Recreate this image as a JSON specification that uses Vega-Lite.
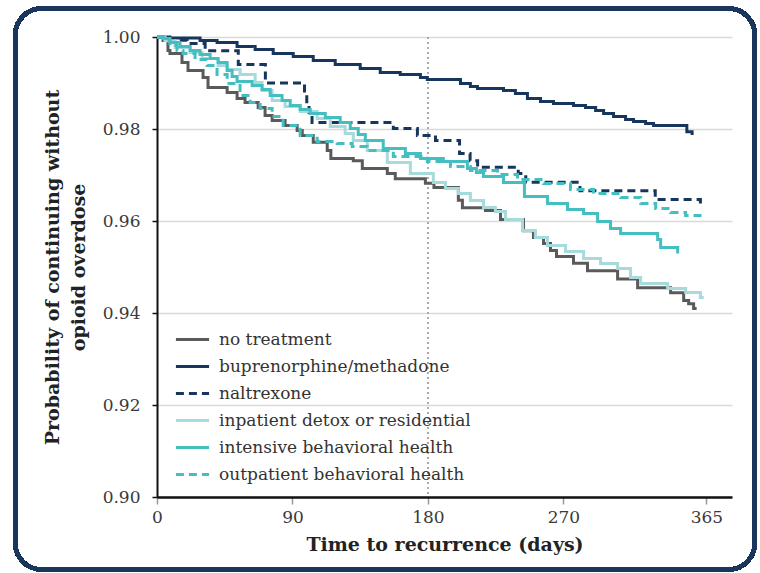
{
  "$schema": "https://vega.github.io/schema/vega-lite/v6.json",
  "width": 575,
  "height": 460,
  "autosize": {"type": "none"},
  "padding": {"left": 157, "top": 37, "right": 28, "bottom": 76},
  "background": "white",
  "config": {"view": {"stroke": null}, "font": "DejaVu Serif"},
  "data": {"values": [
    {"group": "no treatment", "day": 0, "p": 1.0},
    {"group": "no treatment", "day": 4, "p": 0.99924},
    {"group": "no treatment", "day": 7.3, "p": 0.99707},
    {"group": "no treatment", "day": 8.6, "p": 0.99641},
    {"group": "no treatment", "day": 16.6, "p": 0.99446},
    {"group": "no treatment", "day": 20.6, "p": 0.99272},
    {"group": "no treatment", "day": 30.6, "p": 0.9912},
    {"group": "no treatment", "day": 33.9, "p": 0.98902},
    {"group": "no treatment", "day": 46.6, "p": 0.98793},
    {"group": "no treatment", "day": 53.2, "p": 0.98663},
    {"group": "no treatment", "day": 58.5, "p": 0.98576},
    {"group": "no treatment", "day": 67.2, "p": 0.98467},
    {"group": "no treatment", "day": 71.8, "p": 0.98293},
    {"group": "no treatment", "day": 76.5, "p": 0.98185},
    {"group": "no treatment", "day": 85.1, "p": 0.98076},
    {"group": "no treatment", "day": 93.1, "p": 0.97967},
    {"group": "no treatment", "day": 96.5, "p": 0.97859},
    {"group": "no treatment", "day": 103.8, "p": 0.97713},
    {"group": "no treatment", "day": 113.1, "p": 0.9753},
    {"group": "no treatment", "day": 115.5, "p": 0.9736},
    {"group": "no treatment", "day": 130.4, "p": 0.9731},
    {"group": "no treatment", "day": 136.4, "p": 0.9714},
    {"group": "no treatment", "day": 153, "p": 0.9703},
    {"group": "no treatment", "day": 158.3, "p": 0.9692},
    {"group": "no treatment", "day": 178.3, "p": 0.9682},
    {"group": "no treatment", "day": 184, "p": 0.9673},
    {"group": "no treatment", "day": 200.2, "p": 0.9645},
    {"group": "no treatment", "day": 202.9, "p": 0.9629},
    {"group": "no treatment", "day": 218.2, "p": 0.9623},
    {"group": "no treatment", "day": 228.2, "p": 0.9603},
    {"group": "no treatment", "day": 243.5, "p": 0.9579},
    {"group": "no treatment", "day": 250.1, "p": 0.9564},
    {"group": "no treatment", "day": 256.8, "p": 0.9551},
    {"group": "no treatment", "day": 261.4, "p": 0.9536},
    {"group": "no treatment", "day": 265.4, "p": 0.9523},
    {"group": "no treatment", "day": 276.7, "p": 0.9508},
    {"group": "no treatment", "day": 286, "p": 0.9492},
    {"group": "no treatment", "day": 306, "p": 0.9474},
    {"group": "no treatment", "day": 319.3, "p": 0.9455},
    {"group": "no treatment", "day": 341.2, "p": 0.9444},
    {"group": "no treatment", "day": 349.9, "p": 0.9427},
    {"group": "no treatment", "day": 353.2, "p": 0.942},
    {"group": "no treatment", "day": 356.5, "p": 0.941},
    {"group": "no treatment", "day": 358.5, "p": 0.941},
    {"group": "buprenorphine/methadone", "day": 0, "p": 1.0},
    {"group": "buprenorphine/methadone", "day": 8.6, "p": 0.99978},
    {"group": "buprenorphine/methadone", "day": 28.6, "p": 0.99924},
    {"group": "buprenorphine/methadone", "day": 39.9, "p": 0.9988},
    {"group": "buprenorphine/methadone", "day": 53.2, "p": 0.99793},
    {"group": "buprenorphine/methadone", "day": 65.2, "p": 0.99728},
    {"group": "buprenorphine/methadone", "day": 77.2, "p": 0.99641},
    {"group": "buprenorphine/methadone", "day": 90.5, "p": 0.99576},
    {"group": "buprenorphine/methadone", "day": 103.8, "p": 0.99489},
    {"group": "buprenorphine/methadone", "day": 118.4, "p": 0.99402},
    {"group": "buprenorphine/methadone", "day": 135, "p": 0.99315},
    {"group": "buprenorphine/methadone", "day": 148.3, "p": 0.99228},
    {"group": "buprenorphine/methadone", "day": 161.6, "p": 0.99185},
    {"group": "buprenorphine/methadone", "day": 175, "p": 0.9912},
    {"group": "buprenorphine/methadone", "day": 179.6, "p": 0.99076},
    {"group": "buprenorphine/methadone", "day": 201.6, "p": 0.98989},
    {"group": "buprenorphine/methadone", "day": 208.2, "p": 0.98924},
    {"group": "buprenorphine/methadone", "day": 212.9, "p": 0.9888},
    {"group": "buprenorphine/methadone", "day": 230.2, "p": 0.98837},
    {"group": "buprenorphine/methadone", "day": 238.1, "p": 0.98772},
    {"group": "buprenorphine/methadone", "day": 246.1, "p": 0.98663},
    {"group": "buprenorphine/methadone", "day": 254.8, "p": 0.98598},
    {"group": "buprenorphine/methadone", "day": 263.4, "p": 0.98554},
    {"group": "buprenorphine/methadone", "day": 276.7, "p": 0.98511},
    {"group": "buprenorphine/methadone", "day": 284.7, "p": 0.98467},
    {"group": "buprenorphine/methadone", "day": 291.4, "p": 0.98402},
    {"group": "buprenorphine/methadone", "day": 296.7, "p": 0.98337},
    {"group": "buprenorphine/methadone", "day": 303.3, "p": 0.98272},
    {"group": "buprenorphine/methadone", "day": 311.3, "p": 0.98207},
    {"group": "buprenorphine/methadone", "day": 316.6, "p": 0.98163},
    {"group": "buprenorphine/methadone", "day": 324.6, "p": 0.9812},
    {"group": "buprenorphine/methadone", "day": 329.9, "p": 0.98076},
    {"group": "buprenorphine/methadone", "day": 352, "p": 0.9794},
    {"group": "buprenorphine/methadone", "day": 355.5, "p": 0.979},
    {"group": "buprenorphine/methadone", "day": 356.5, "p": 0.979},
    {"group": "naltrexone", "day": 0, "p": 1.0},
    {"group": "naltrexone", "day": 4, "p": 0.9993},
    {"group": "naltrexone", "day": 20, "p": 0.9986},
    {"group": "naltrexone", "day": 32, "p": 0.997},
    {"group": "naltrexone", "day": 54, "p": 0.994},
    {"group": "naltrexone", "day": 72, "p": 0.99},
    {"group": "naltrexone", "day": 98, "p": 0.9878},
    {"group": "naltrexone", "day": 99.5, "p": 0.9856},
    {"group": "naltrexone", "day": 101, "p": 0.9836},
    {"group": "naltrexone", "day": 103, "p": 0.9814},
    {"group": "naltrexone", "day": 157, "p": 0.9801},
    {"group": "naltrexone", "day": 173, "p": 0.9786},
    {"group": "naltrexone", "day": 185, "p": 0.9775},
    {"group": "naltrexone", "day": 201, "p": 0.9747},
    {"group": "naltrexone", "day": 208, "p": 0.9731},
    {"group": "naltrexone", "day": 213, "p": 0.9717},
    {"group": "naltrexone", "day": 240, "p": 0.9703},
    {"group": "naltrexone", "day": 245, "p": 0.9684},
    {"group": "naltrexone", "day": 281, "p": 0.9666},
    {"group": "naltrexone", "day": 331, "p": 0.9647},
    {"group": "naltrexone", "day": 361, "p": 0.9627},
    {"group": "inpatient detox or residential", "day": 0, "p": 1.0},
    {"group": "inpatient detox or residential", "day": 5.3, "p": 0.9992},
    {"group": "inpatient detox or residential", "day": 12, "p": 0.99772},
    {"group": "inpatient detox or residential", "day": 22, "p": 0.99663},
    {"group": "inpatient detox or residential", "day": 30, "p": 0.99533},
    {"group": "inpatient detox or residential", "day": 40.6, "p": 0.9938},
    {"group": "inpatient detox or residential", "day": 46.6, "p": 0.99293},
    {"group": "inpatient detox or residential", "day": 55.2, "p": 0.99185},
    {"group": "inpatient detox or residential", "day": 65.2, "p": 0.99011},
    {"group": "inpatient detox or residential", "day": 69.8, "p": 0.98837},
    {"group": "inpatient detox or residential", "day": 76.5, "p": 0.9862},
    {"group": "inpatient detox or residential", "day": 85.1, "p": 0.98489},
    {"group": "inpatient detox or residential", "day": 95.1, "p": 0.9838},
    {"group": "inpatient detox or residential", "day": 106.4, "p": 0.98228},
    {"group": "inpatient detox or residential", "day": 115.1, "p": 0.98054},
    {"group": "inpatient detox or residential", "day": 125, "p": 0.97902},
    {"group": "inpatient detox or residential", "day": 130.4, "p": 0.9775},
    {"group": "inpatient detox or residential", "day": 139.7, "p": 0.97533},
    {"group": "inpatient detox or residential", "day": 153, "p": 0.97272},
    {"group": "inpatient detox or residential", "day": 168.3, "p": 0.97033},
    {"group": "inpatient detox or residential", "day": 183.6, "p": 0.96837},
    {"group": "inpatient detox or residential", "day": 191.6, "p": 0.96707},
    {"group": "inpatient detox or residential", "day": 200.2, "p": 0.96598},
    {"group": "inpatient detox or residential", "day": 208.2, "p": 0.96446},
    {"group": "inpatient detox or residential", "day": 216.9, "p": 0.96293},
    {"group": "inpatient detox or residential", "day": 224.8, "p": 0.96207},
    {"group": "inpatient detox or residential", "day": 231.5, "p": 0.96033},
    {"group": "inpatient detox or residential", "day": 242.8, "p": 0.95793},
    {"group": "inpatient detox or residential", "day": 251.4, "p": 0.95641},
    {"group": "inpatient detox or residential", "day": 259.4, "p": 0.95467},
    {"group": "inpatient detox or residential", "day": 271.4, "p": 0.95337},
    {"group": "inpatient detox or residential", "day": 283.4, "p": 0.95185},
    {"group": "inpatient detox or residential", "day": 294.7, "p": 0.95076},
    {"group": "inpatient detox or residential", "day": 306, "p": 0.94967},
    {"group": "inpatient detox or residential", "day": 314.6, "p": 0.94772},
    {"group": "inpatient detox or residential", "day": 321.3, "p": 0.94641},
    {"group": "inpatient detox or residential", "day": 339.2, "p": 0.94533},
    {"group": "inpatient detox or residential", "day": 351.2, "p": 0.94446},
    {"group": "inpatient detox or residential", "day": 361, "p": 0.94337},
    {"group": "inpatient detox or residential", "day": 363.2, "p": 0.94337},
    {"group": "intensive behavioral health", "day": 0, "p": 1.0},
    {"group": "intensive behavioral health", "day": 4, "p": 0.9997},
    {"group": "intensive behavioral health", "day": 8.6, "p": 0.9988},
    {"group": "intensive behavioral health", "day": 15.3, "p": 0.99793},
    {"group": "intensive behavioral health", "day": 22, "p": 0.99707},
    {"group": "intensive behavioral health", "day": 28.6, "p": 0.9962},
    {"group": "intensive behavioral health", "day": 35.3, "p": 0.99533},
    {"group": "intensive behavioral health", "day": 40.6, "p": 0.99446},
    {"group": "intensive behavioral health", "day": 46.6, "p": 0.99272},
    {"group": "intensive behavioral health", "day": 49.9, "p": 0.99141},
    {"group": "intensive behavioral health", "day": 53.2, "p": 0.99033},
    {"group": "intensive behavioral health", "day": 63.2, "p": 0.98946},
    {"group": "intensive behavioral health", "day": 69.8, "p": 0.98859},
    {"group": "intensive behavioral health", "day": 75.2, "p": 0.98728},
    {"group": "intensive behavioral health", "day": 83.1, "p": 0.9862},
    {"group": "intensive behavioral health", "day": 88.5, "p": 0.98511},
    {"group": "intensive behavioral health", "day": 95.1, "p": 0.98424},
    {"group": "intensive behavioral health", "day": 101.8, "p": 0.98337},
    {"group": "intensive behavioral health", "day": 111.8, "p": 0.9825},
    {"group": "intensive behavioral health", "day": 121.7, "p": 0.98141},
    {"group": "intensive behavioral health", "day": 128.4, "p": 0.98011},
    {"group": "intensive behavioral health", "day": 133.7, "p": 0.9788},
    {"group": "intensive behavioral health", "day": 138.4, "p": 0.9775},
    {"group": "intensive behavioral health", "day": 150.3, "p": 0.97576},
    {"group": "intensive behavioral health", "day": 165, "p": 0.97467},
    {"group": "intensive behavioral health", "day": 175, "p": 0.97359},
    {"group": "intensive behavioral health", "day": 190.2, "p": 0.97293},
    {"group": "intensive behavioral health", "day": 206.2, "p": 0.97141},
    {"group": "intensive behavioral health", "day": 212.2, "p": 0.97054},
    {"group": "intensive behavioral health", "day": 216.9, "p": 0.96967},
    {"group": "intensive behavioral health", "day": 230.2, "p": 0.96837},
    {"group": "intensive behavioral health", "day": 244.1, "p": 0.96533},
    {"group": "intensive behavioral health", "day": 259.4, "p": 0.9638},
    {"group": "intensive behavioral health", "day": 272.7, "p": 0.9625},
    {"group": "intensive behavioral health", "day": 283.4, "p": 0.96163},
    {"group": "intensive behavioral health", "day": 292.7, "p": 0.95989},
    {"group": "intensive behavioral health", "day": 301.3, "p": 0.95837},
    {"group": "intensive behavioral health", "day": 308, "p": 0.95728},
    {"group": "intensive behavioral health", "day": 332.6, "p": 0.95598},
    {"group": "intensive behavioral health", "day": 334.6, "p": 0.95424},
    {"group": "intensive behavioral health", "day": 345.9, "p": 0.95293},
    {"group": "outpatient behavioral health", "day": 0, "p": 1.0},
    {"group": "outpatient behavioral health", "day": 4, "p": 0.99946},
    {"group": "outpatient behavioral health", "day": 8.6, "p": 0.99815},
    {"group": "outpatient behavioral health", "day": 13.3, "p": 0.99707},
    {"group": "outpatient behavioral health", "day": 17.3, "p": 0.99641},
    {"group": "outpatient behavioral health", "day": 25.3, "p": 0.99511},
    {"group": "outpatient behavioral health", "day": 33.3, "p": 0.9938},
    {"group": "outpatient behavioral health", "day": 39.9, "p": 0.99185},
    {"group": "outpatient behavioral health", "day": 46.6, "p": 0.98989},
    {"group": "outpatient behavioral health", "day": 55.2, "p": 0.98728},
    {"group": "outpatient behavioral health", "day": 61.9, "p": 0.98576},
    {"group": "outpatient behavioral health", "day": 68.5, "p": 0.98446},
    {"group": "outpatient behavioral health", "day": 76.5, "p": 0.98272},
    {"group": "outpatient behavioral health", "day": 83.8, "p": 0.98076},
    {"group": "outpatient behavioral health", "day": 95.1, "p": 0.97859},
    {"group": "outpatient behavioral health", "day": 106.4, "p": 0.97728},
    {"group": "outpatient behavioral health", "day": 119.7, "p": 0.97685},
    {"group": "outpatient behavioral health", "day": 129.7, "p": 0.9762},
    {"group": "outpatient behavioral health", "day": 139.7, "p": 0.97533},
    {"group": "outpatient behavioral health", "day": 157, "p": 0.97402},
    {"group": "outpatient behavioral health", "day": 179.6, "p": 0.97293},
    {"group": "outpatient behavioral health", "day": 195, "p": 0.97185},
    {"group": "outpatient behavioral health", "day": 208.2, "p": 0.97098},
    {"group": "outpatient behavioral health", "day": 226.2, "p": 0.97011},
    {"group": "outpatient behavioral health", "day": 239.5, "p": 0.96902},
    {"group": "outpatient behavioral health", "day": 256.8, "p": 0.96815},
    {"group": "outpatient behavioral health", "day": 274.7, "p": 0.96685},
    {"group": "outpatient behavioral health", "day": 290, "p": 0.96598},
    {"group": "outpatient behavioral health", "day": 308, "p": 0.96511},
    {"group": "outpatient behavioral health", "day": 321.3, "p": 0.9638},
    {"group": "outpatient behavioral health", "day": 331.3, "p": 0.96272},
    {"group": "outpatient behavioral health", "day": 341.2, "p": 0.96185},
    {"group": "outpatient behavioral health", "day": 351.2, "p": 0.9612},
    {"group": "outpatient behavioral health", "day": 363.2, "p": 0.96098}
  ]},
  "layer": [
    {
      "mark": {"type": "rect", "clip": false, "fill": null, "filled": false, "stroke": "#1b365d", "strokeWidth": 4, "cornerRadius": 26},
      "encoding": {
        "x": {"datum": -94.1, "type": "quantitative"},
        "x2": {"datum": 397.1},
        "y": {"datum": 1.0062, "type": "quantitative"},
        "y2": {"datum": 0.88424}
      }
    },
    {
      "mark": {"type": "rule", "color": "#aaaaaa", "strokeWidth": 1.5, "strokeDash": [2, 3]},
      "encoding": {"x": {"datum": 180, "type": "quantitative"}}
    },
    {
      "mark": {"type": "line", "interpolate": "step-after", "strokeWidth": 3},
      "encoding": {
        "x": {
          "field": "day", "type": "quantitative",
          "scale": {"domain": [0, 382], "nice": false, "zero": false},
          "axis": {
            "values": [0, 90, 180, 270, 365],
            "labelFlush": false,
            "title": "Time to recurrence (days)",
            "titleFont": "DejaVu Serif", "titleFontWeight": "bold", "titleFontSize": 19, "titleColor": "#222222", "titlePadding": 10,
            "labelFont": "DejaVu Serif", "labelFontSize": 17, "labelColor": "#3a3a3a", "labelPadding": 5, "labelFontWeight": "normal",
            "domainColor": "#111111", "domainWidth": 2.5,
            "tickColor": "#999999", "tickSize": 7, "tickWidth": 1.5,
            "grid": false
          }
        },
        "y": {
          "field": "p", "type": "quantitative",
          "scale": {"domain": [0.9, 1.0], "nice": false, "zero": false},
          "axis": {
            "values": [0.9, 0.92, 0.94, 0.96, 0.98, 1.0],
            "format": ".2f",
            "title": ["Probability of continuing without", "opioid overdose"],
            "titleFont": "DejaVu Serif", "titleFontWeight": "bold", "titleFontSize": 19, "titleColor": "#222222", "titleLineHeight": 26, "titlePadding": 14,
            "labelFont": "DejaVu Serif", "labelFontSize": 17, "labelColor": "#3a3a3a", "labelPadding": 12,
            "domainColor": "#111111", "domainWidth": 2,
            "tickColor": "#111111", "tickSize": 5, "tickWidth": 1.5,
            "grid": true, "gridColor": "#d9d9d9", "gridWidth": 1.5
          }
        },
        "color": {
          "field": "group", "type": "nominal",
          "scale": {
            "domain": ["no treatment", "buprenorphine/methadone", "naltrexone", "inpatient detox or residential", "intensive behavioral health", "outpatient behavioral health"],
            "range": ["#5a5a5a", "#17365d", "#17365d", "#a6dadb", "#45bec1", "#45bec1"]
          },
          "legend": {
            "title": null, "orient": "none", "legendX": 17, "legendY": 284, "padding": 0,
            "symbolType": "stroke", "symbolStrokeWidth": 3, "symbolSize": 1100,
            "labelFont": "DejaVu Serif", "labelFontSize": 17, "labelColor": "#333333", "labelOffset": 8,
            "rowPadding": 0, "labelLimit": 400
          }
        },
        "strokeDash": {
          "field": "group", "type": "nominal",
          "scale": {
            "domain": ["no treatment", "buprenorphine/methadone", "naltrexone", "inpatient detox or residential", "intensive behavioral health", "outpatient behavioral health"],
            "range": [[1, 0], [1, 0], [8, 5], [1, 0], [1, 0], [8, 5]]
          },
          "legend": {
            "title": null, "orient": "none", "legendX": 17, "legendY": 284, "padding": 0,
            "symbolType": "stroke", "symbolStrokeWidth": 3, "symbolSize": 1100,
            "labelFont": "DejaVu Serif", "labelFontSize": 17, "labelColor": "#333333", "labelOffset": 8,
            "rowPadding": 0, "labelLimit": 400
          }
        }
      }
    }
  ]
}
